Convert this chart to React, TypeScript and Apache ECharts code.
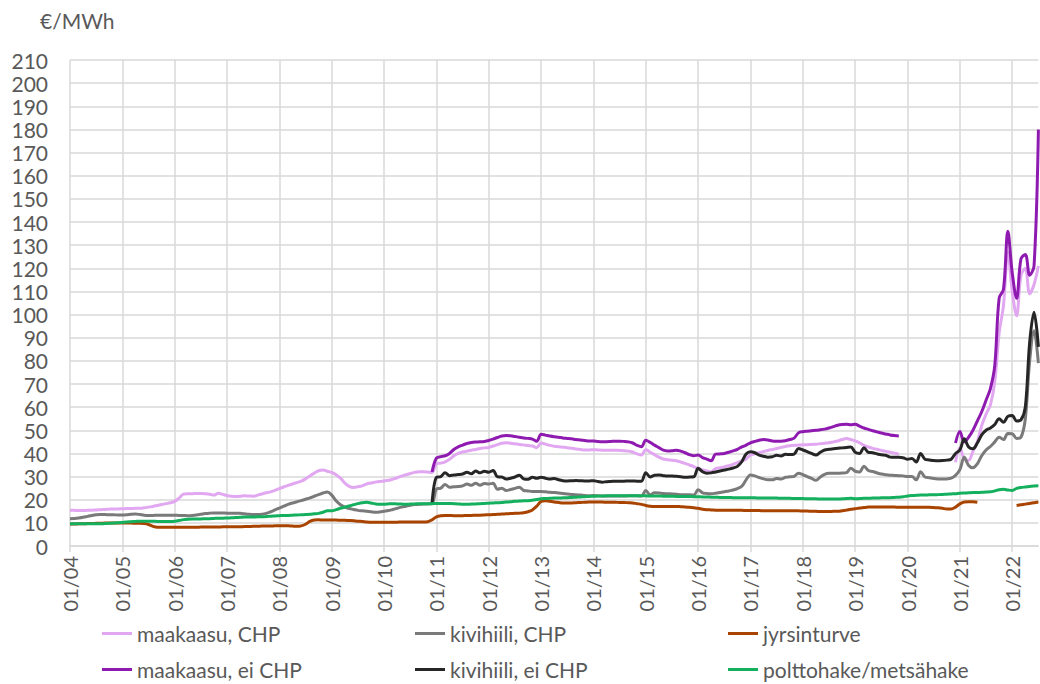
import React, { useEffect, useRef } from "react";
import * as echarts from "echarts";

const START_YEAR = 2004;
const MONTH_COUNT = 223; // 01/2004 .. 07/2022
const categories: string[] = [];
for (let i = 0; i < MONTH_COUNT; i++) {
  const y = START_YEAR + Math.floor(i / 12);
  const m = (i % 12) + 1;
  categories.push(`${String(m).padStart(2, "0")}/${String(y % 100).padStart(2, "0")}`);
}

const Y_MIN = 0;
const Y_MAX = 210;
const Y_STEP = 10;
const N = null;

const maakaasuCHP = [
  15.5, 15.4, 15.3, 15.3, 15.4, 15.5, 15.6, 15.7, 15.8, 15.9, 16.0, 16.0,
  16.1, 16.2, 16.2, 16.3, 16.3, 16.5, 16.8, 17.1, 17.5, 17.9, 18.3, 18.7,
  19.3, 20.7, 22.4, 22.6, 22.6, 22.7, 22.7, 22.6, 22.4, 22.0, 22.8, 22.3,
  21.8, 21.5, 21.4, 21.5, 21.7, 21.6, 21.5, 22.0, 22.5, 23.0, 23.4, 24.0,
  24.8, 25.5, 26.2, 26.8, 27.4, 28.0, 29.0, 30.3, 31.5, 32.5, 32.8, 32.3,
  31.8, 30.8, 29.3, 27.2, 25.8, 25.3, 25.6, 26.0, 26.8, 27.2, 27.6, 27.9,
  28.1, 28.4, 28.9, 29.5, 30.2, 30.8, 31.3, 31.8, 32.1, 32.1, 32.0, 31.8,
  35.5, 35.8, 36.4, 37.5, 39.0, 40.0, 40.6, 41.0, 41.4, 41.7, 42.1, 42.4,
  42.6, 43.2, 43.8, 44.4, 44.6, 44.4, 44.2, 43.9, 43.7, 43.4, 43.2, 42.5,
  44.5, 44.0, 43.5, 43.1, 42.9, 42.7, 42.5, 42.2, 41.9, 41.7, 41.5, 41.5,
  41.6, 41.5, 41.4, 41.4, 41.4, 41.4, 41.3, 41.2, 41.0, 40.6, 39.8, 39.3,
  41.7, 40.5, 39.5, 38.4, 37.6, 37.3, 37.1, 36.8, 36.3, 35.7, 35.0, 34.3,
  33.4, 32.9, 32.4, 32.1, 33.4, 33.8, 34.2, 34.7, 35.3, 36.0, 36.8, 37.6,
  39.3, 39.8, 40.3, 40.8, 41.3, 41.7, 42.1, 42.6, 43.0, 43.3, 43.5, 43.6,
  43.7, 43.8, 43.9, 44.0, 44.2, 44.4, 44.6, 45.0, 45.4, 46.0, 46.4, 46.0,
  45.4, 44.6, 43.5, 42.8, 42.2, 41.8, 41.3, 40.9, 40.5, 40.1, 39.7, N,
  N, N, N, N, N, N, N, N, N, N, N, 36.2,
  42.5, 37.5, 37.0, 41.0, 45.0, 52.0, 57.0, 61.0, 71.0, 92.0, 104.0, 127.0,
  110.0, 99.5, 117.0, 120.0, 109.0, 113.0, 121.0,
];

const kivihiiliCHP = [
  11.8, 11.9, 12.1, 12.4, 12.8, 13.2, 13.5, 13.6, 13.6, 13.5, 13.5, 13.4,
  13.4, 13.5, 13.7, 13.8, 13.6, 13.3, 13.2, 13.2, 13.3, 13.3, 13.3, 13.3,
  13.3, 13.2, 13.2, 13.1, 13.2, 13.4, 13.7, 14.0, 14.2, 14.3, 14.3, 14.3,
  14.2, 14.2, 14.2, 14.1, 13.9, 13.7, 13.6, 13.6, 13.7, 14.1, 14.8, 15.6,
  16.4, 17.2, 18.0, 18.6, 19.1, 19.6, 20.2, 20.8, 21.5, 22.2, 22.9, 23.3,
  22.0, 19.5, 17.8, 16.8, 16.2, 15.8, 15.4, 15.2, 15.0, 14.8, 14.6, 14.7,
  15.0, 15.3, 15.8, 16.3, 16.8, 17.2, 17.6, 17.9, 18.0, 18.1, 18.2, 18.3,
  24.6, 25.0, 26.6, 25.4, 25.6, 25.7, 26.0, 26.8, 26.2, 27.1, 26.3, 27.0,
  26.8, 27.1, 24.5, 25.0, 24.0, 24.4, 24.9, 25.4, 24.0, 23.8, 23.6, 23.6,
  23.6, 23.4, 23.2, 23.1, 22.9, 22.7, 22.5, 22.3, 22.1, 22.0, 21.8, 21.7,
  21.8, 21.7, 21.6, 21.6, 21.6, 21.6, 21.6, 21.6, 21.7, 21.7, 21.7, 21.6,
  24.0, 22.1, 23.0, 22.9, 22.7, 22.6, 22.5, 22.4, 22.2, 22.1, 22.1, 22.0,
  24.3, 23.0, 22.7, 22.6, 22.8, 23.1, 23.4, 23.8, 24.2, 24.8, 25.8, 28.6,
  30.7, 30.3, 29.6, 29.0, 28.6, 28.6, 29.2, 28.9, 29.7, 29.9, 30.1, 31.4,
  30.8, 30.0, 29.2, 28.4, 29.8, 31.0, 31.4, 31.4, 31.4, 31.5, 31.7, 33.6,
  32.3, 32.0, 34.5, 32.6, 32.2, 31.6, 31.1, 30.8, 30.6, 30.5, 30.4, 30.3,
  30.0, 30.0, 28.6, 32.1, 29.8, 29.5, 29.2, 29.0, 28.9, 29.0, 29.3, 30.5,
  33.0, 38.3, 34.8, 33.8, 35.5, 39.0, 41.5, 43.0, 45.0, 47.0, 46.0, 48.6,
  48.5, 46.5, 47.0, 55.0, 80.0, 93.0, 79.0,
];

const jyrsinturve = [
  9.5, 9.5, 9.6, 9.6, 9.7, 9.7, 9.8, 9.8, 9.9, 9.9, 9.9, 9.9,
  9.9, 9.9, 9.9, 9.8, 9.8, 9.7, 9.3, 8.5, 8.1, 8.1, 8.1, 8.1,
  8.1, 8.1, 8.1, 8.1, 8.1, 8.1, 8.2, 8.2, 8.2, 8.2, 8.2, 8.3,
  8.3, 8.3, 8.3, 8.3, 8.4, 8.4, 8.5, 8.5, 8.6, 8.6, 8.6, 8.7,
  8.7, 8.7, 8.7, 8.6, 8.5, 8.7, 9.4, 10.6, 11.2, 11.3, 11.2, 11.2,
  11.2, 11.2, 11.1, 11.1, 11.0, 10.9, 10.7, 10.6, 10.4, 10.3, 10.3, 10.3,
  10.3, 10.3, 10.3, 10.3, 10.4, 10.4, 10.4, 10.4, 10.4, 10.4, 10.5, 11.3,
  12.6, 13.1, 13.2, 13.2, 13.1, 13.1, 13.1, 13.2, 13.2, 13.3, 13.3, 13.4,
  13.5, 13.6, 13.7, 13.8, 13.9, 14.0, 14.1, 14.2, 14.4, 14.8, 15.6, 17.2,
  19.3, 19.6, 19.3, 19.0, 18.8, 18.6, 18.6, 18.6, 18.7, 18.8, 18.9, 19.0,
  19.0, 19.0, 19.0, 18.9, 18.9, 18.9, 18.8, 18.8, 18.7, 18.6, 18.3, 18.0,
  17.5, 17.2, 17.1, 17.1, 17.1, 17.1, 17.1, 17.1, 17.0, 16.9, 16.7, 16.5,
  16.3, 15.9, 15.7, 15.6, 15.5, 15.4, 15.4, 15.4, 15.4, 15.4, 15.4, 15.3,
  15.3, 15.3, 15.3, 15.2, 15.2, 15.2, 15.2, 15.2, 15.2, 15.2, 15.2, 15.2,
  15.1, 15.1, 15.0, 15.0, 14.9, 14.9, 14.9, 15.0, 15.0, 15.2, 15.5, 15.9,
  16.1, 16.4, 16.6, 16.8, 16.9, 16.9, 16.9, 16.9, 16.8, 16.8, 16.7, 16.7,
  16.7, 16.7, 16.7, 16.7, 16.7, 16.7, 16.6, 16.5, 16.3, 16.0, 16.0, 16.8,
  18.2, 19.0, 19.1, 19.1, 18.9, N, N, N, N, N, N, N,
  N, 17.5, 17.8, 18.1, 18.4, 18.7, 19.0,
];

const maakaasuEiCHP = [
  N, N, N, N, N, N, N, N, N, N, N, N,
  N, N, N, N, N, N, N, N, N, N, N, N,
  N, N, N, N, N, N, N, N, N, N, N, N,
  N, N, N, N, N, N, N, N, N, N, N, N,
  N, N, N, N, N, N, N, N, N, N, N, N,
  N, N, N, N, N, N, N, N, N, N, N, N,
  N, N, N, N, N, N, N, N, N, N, N, 32.0,
  38.0, 38.6, 39.0, 40.0, 41.7, 42.8, 43.6, 44.3, 44.7, 44.9, 45.0, 45.2,
  45.6, 46.2, 46.9, 47.5, 47.7, 47.6, 47.3, 47.0, 46.7, 46.5, 46.2, 45.3,
  48.3, 47.9, 47.5, 47.2, 47.0, 46.7, 46.5, 46.3, 46.0, 45.8, 45.6, 45.4,
  45.4, 45.2, 45.1, 45.1, 45.2, 45.3, 45.3, 45.2, 45.0, 44.5, 43.5, 42.9,
  45.7, 44.8, 43.6, 42.5, 41.4, 41.1, 41.2, 41.4, 41.0, 40.3, 39.5, 39.0,
  39.3, 38.2, 37.5, 36.8, 39.7, 39.8, 40.0, 40.5, 41.1, 41.8, 42.8, 43.6,
  44.6, 45.2, 45.7, 46.0, 45.8, 45.4, 45.3, 45.3, 45.5, 46.0, 46.6, 48.9,
  49.4, 49.6, 49.8, 50.0, 50.2, 50.5, 51.0, 51.6, 52.2, 52.5, 52.6, 52.4,
  52.6, 51.8, 51.0, 50.4, 49.8, 49.3, 48.8, 48.4, 48.0, 47.7, 47.5, N,
  N, N, N, N, N, N, N, N, N, N, N, 44.5,
  49.5, 45.0, 47.0, 50.0, 54.0, 58.0, 63.0, 68.0, 78.0, 107.0, 111.0, 136.0,
  118.0, 107.0, 124.0, 126.0, 117.0, 121.0, 180.0,
];

const kivihiiliEiCHP = [
  N, N, N, N, N, N, N, N, N, N, N, N,
  N, N, N, N, N, N, N, N, N, N, N, N,
  N, N, N, N, N, N, N, N, N, N, N, N,
  N, N, N, N, N, N, N, N, N, N, N, N,
  N, N, N, N, N, N, N, N, N, N, N, N,
  N, N, N, N, N, N, N, N, N, N, N, N,
  N, N, N, N, N, N, N, N, N, N, N, 18.5,
  29.7, 30.0, 31.6, 30.4, 30.7, 30.9, 31.1, 31.9, 31.2, 32.4, 31.6, 32.3,
  31.9, 32.6, 29.9, 29.8, 28.9, 29.3, 29.8, 30.6, 29.0, 28.8, 29.7, 29.3,
  29.7, 29.3, 28.9, 29.2, 28.6, 28.2, 28.1, 28.2, 28.3, 28.2, 28.1, 28.1,
  28.2, 27.9, 27.6, 27.8, 27.9, 28.0, 28.0, 28.0, 28.1, 28.1, 28.0, 28.0,
  31.7, 29.8, 30.6, 30.7, 30.4, 30.2, 30.3, 30.1, 29.9, 29.7, 29.8, 29.9,
  33.6, 32.1, 31.4, 31.6, 32.0, 32.4, 32.8, 33.2, 33.7, 34.4, 36.4, 39.8,
  40.7, 40.3, 39.3, 38.8, 38.4, 38.6, 39.2, 38.9, 39.6, 39.5, 39.7, 42.1,
  41.5, 40.8, 40.0, 39.3, 40.5, 41.5, 41.8, 42.0, 42.2, 42.4, 42.6, 42.8,
  40.5, 40.0, 42.5, 40.5, 40.3, 39.8, 39.4, 39.2, 38.4, 38.3, 38.3, 38.1,
  37.5, 37.8, 36.3, 40.0, 37.5, 37.2, 36.9, 36.8, 36.9, 37.1, 37.5, 40.0,
  41.5, 46.3, 42.8, 42.0, 44.5, 48.0, 50.0, 51.0, 52.5, 55.0, 53.5, 56.0,
  56.4, 54.0, 54.5, 60.0, 88.0, 101.0, 86.0,
];

const polttohake = [
  9.6, 9.6, 9.6, 9.6, 9.6, 9.6, 9.6, 9.6, 9.7, 9.8, 9.9, 10.0,
  10.2, 10.4, 10.5, 10.6, 10.7, 10.7, 10.7, 10.7, 10.6, 10.6, 10.6, 10.6,
  10.7, 11.0, 11.4, 11.6, 11.7, 11.7, 11.7, 11.8, 11.8, 11.9, 12.0, 12.0,
  12.1, 12.2, 12.3, 12.4, 12.5, 12.5, 12.5, 12.6, 12.6, 12.7, 12.9, 13.0,
  13.1, 13.2, 13.2, 13.3, 13.4, 13.5, 13.6, 13.7, 13.9, 14.1, 14.6, 15.2,
  15.2, 15.7, 16.3, 16.8, 17.3, 17.8, 18.3, 18.7, 18.9, 18.6, 18.2, 18.0,
  18.0, 18.2, 18.3, 18.2, 18.1, 18.0, 18.1, 18.2, 18.3, 18.3, 18.3, 18.3,
  18.4, 18.4, 18.4, 18.4, 18.3, 18.2, 18.0, 18.0, 18.1, 18.2, 18.3, 18.4,
  18.5, 18.6, 18.7, 18.8, 19.0, 19.1, 19.3, 19.4, 19.5, 19.6, 19.8, 20.1,
  20.4, 20.5, 20.6, 20.7, 20.7, 20.8, 20.9, 21.0, 21.1, 21.2, 21.3, 21.4,
  21.5, 21.6, 21.6, 21.7, 21.7, 21.7, 21.7, 21.7, 21.7, 21.7, 21.7, 21.7,
  21.7, 21.6, 21.6, 21.6, 21.5, 21.5, 21.5, 21.4, 21.4, 21.4, 21.4, 21.3,
  21.3, 21.2, 21.2, 21.1, 21.1, 21.0, 21.0, 21.0, 20.9, 20.9, 20.8, 20.8,
  20.8, 20.8, 20.7, 20.7, 20.7, 20.7, 20.7, 20.6, 20.6, 20.6, 20.5, 20.5,
  20.5, 20.4, 20.4, 20.4, 20.3, 20.3, 20.3, 20.3, 20.3, 20.4, 20.5, 20.6,
  20.4, 20.5, 20.6, 20.6, 20.7, 20.7, 20.8, 20.8, 20.9, 21.0, 21.1, 21.3,
  21.6, 21.8, 21.9, 22.0, 22.0, 22.1, 22.1, 22.2, 22.3, 22.4, 22.5, 22.6,
  22.8, 22.9, 23.0, 23.1, 23.1, 23.2, 23.3, 23.4, 23.8, 24.3, 24.5, 24.2,
  24.0, 24.9, 25.3, 25.5, 25.7, 25.9, 26.0,
];

const seriesDefs = [
  { name: "maakaasu, CHP", data: maakaasuCHP, color: "#E2A7F1" },
  { name: "kivihiili, CHP", data: kivihiiliCHP, color: "#7A7A7A" },
  { name: "jyrsinturve", data: jyrsinturve, color: "#A84300" },
  { name: "maakaasu, ei CHP", data: maakaasuEiCHP, color: "#8E1AB0" },
  { name: "kivihiili, ei CHP", data: kivihiiliEiCHP, color: "#262626" },
  { name: "polttohake/metsähake", data: polttohake, color: "#14B05E" },
];

const legendPos = [
  { left: 102, top: 623 },
  { left: 415, top: 623 },
  { left: 728, top: 623 },
  { left: 102, top: 659 },
  { left: 415, top: 659 },
  { left: 728, top: 659 },
];

const FONT = "Lato";
const TEXT_COLOR = "#595959";
const GRID_COLOR = "#D9D9D9";

export default function App() {
  const ref = useRef<HTMLDivElement>(null);
  useEffect(() => {
    if (!ref.current) return;
    const chart = echarts.init(ref.current, undefined, { renderer: "svg" });
    const isJan = (idx: number) => idx % 12 === 0;
    chart.setOption({
      animation: false,
      backgroundColor: "#ffffff",
      textStyle: { fontFamily: FONT },
      graphic: [
        {
          type: "text",
          left: 40,
          top: 10,
          style: { text: "€/MWh", font: `21px ${FONT}`, fill: TEXT_COLOR },
        },
      ],
      grid: { left: 70, top: 60, right: 1.6, bottom: 138, containLabel: false },
      legend: seriesDefs.map((s, i) => ({
        data: [s.name],
        left: legendPos[i].left,
        top: legendPos[i].top,
        padding: 0,
        icon: "rect",
        itemWidth: 30,
        itemHeight: 3,
        selectedMode: false,
        textStyle: { fontSize: 21, color: TEXT_COLOR, fontFamily: FONT },
      })),
      xAxis: {
        type: "category",
        data: categories,
        boundaryGap: false,
        axisLine: { show: true, lineStyle: { color: GRID_COLOR, width: 1.5 } },
        axisTick: {
          show: true,
          interval: (idx: number) => isJan(idx),
          length: 6,
          lineStyle: { color: GRID_COLOR, width: 1.5 },
        },
        splitLine: {
          show: true,
          interval: (idx: number) => isJan(idx),
          lineStyle: { color: GRID_COLOR, width: 1.5 },
        },
        axisLabel: {
          interval: (idx: number) => isJan(idx),
          rotate: 90,
          margin: 10,
          fontSize: 20,
          color: TEXT_COLOR,
          fontFamily: FONT,
        },
      },
      yAxis: {
        type: "value",
        min: Y_MIN,
        max: Y_MAX,
        interval: Y_STEP,
        axisLine: { show: false },
        axisTick: { show: false },
        splitLine: { show: true, lineStyle: { color: GRID_COLOR, width: 1.5 } },
        axisLabel: { margin: 22, fontSize: 21, color: TEXT_COLOR, fontFamily: FONT },
      },
      series: seriesDefs.map((s) => ({
        name: s.name,
        type: "line",
        data: s.data,
        smooth: 0.35,
        showSymbol: false,
        symbol: "none",
        connectNulls: false,
        color: s.color,
        lineStyle: { color: s.color, width: 3 },
      })),
    });
    return () => chart.dispose();
  }, []);
  return (
    <div
      ref={ref}
      style={{ position: "absolute", left: 0, top: 0, width: 1040, height: 684 }}
    />
  );
}
